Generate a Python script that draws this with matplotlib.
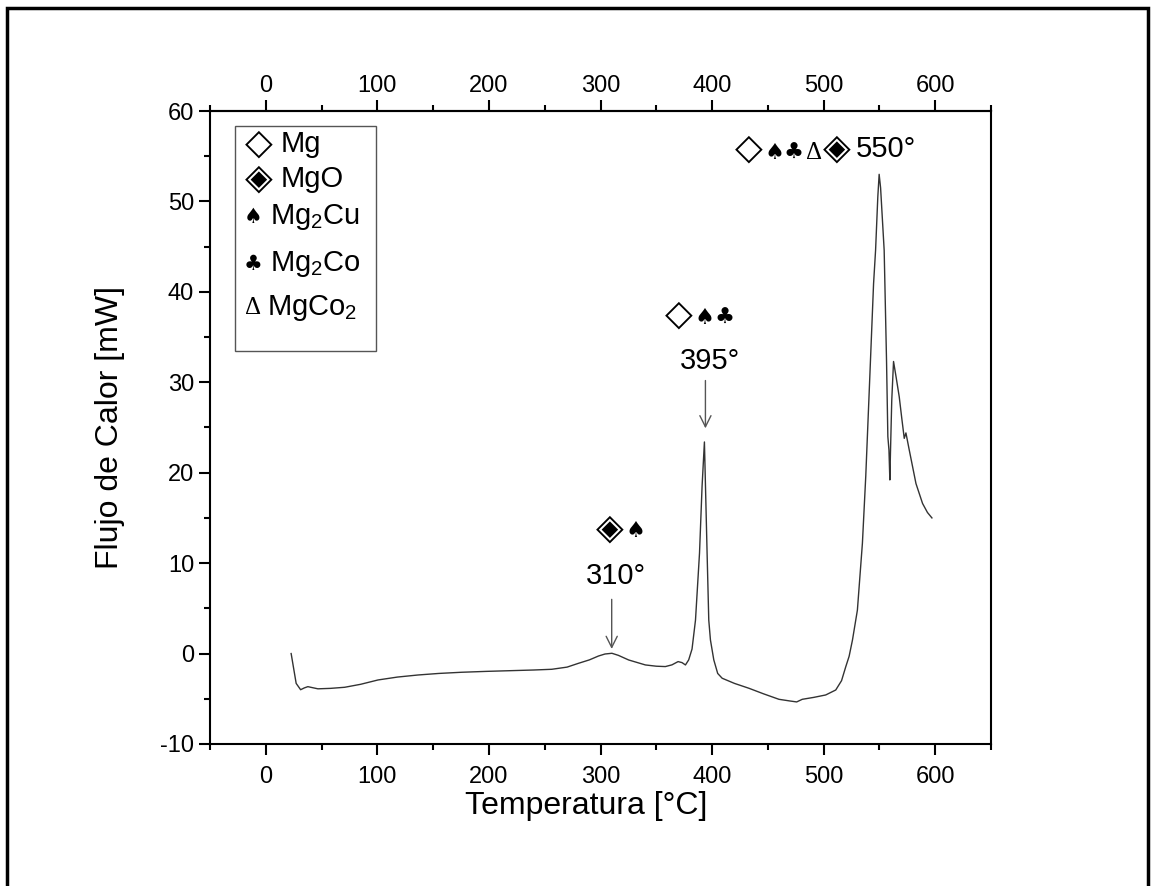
import matplotlib
matplotlib.use('Agg')
import matplotlib.pyplot as plt
from matplotlib.patches import Rectangle

plt.rcParams['font.family'] = ['Liberation Sans', 'DejaVu Sans']
plt.rcParams['mathtext.default'] = 'regular'
plt.rcParams['axes.unicode_minus'] = False

# DSC trace
temp = [22.7, 27.2, 31.2, 34.5, 37.7, 41.0, 46.7, 58.0, 70.7, 85.0, 100.6, 118.0, 136.5,
        155.0, 175.4, 198.0, 220.3, 240.0, 256.3, 270.0, 280.2, 290.0, 298.2, 304.0,
        310.2, 316.0, 325.2, 340.2, 350.0, 358.1, 364.0, 369.5, 373.0, 376.1, 379.0,
        382.0, 385.1, 388.7, 391.0, 393.1, 395.5, 397.0, 398.5, 401.5, 405.0, 409.0,
        420.0, 433.0, 446.0, 459.9, 470.0, 475.8, 480.8, 491.0, 501.8, 510.8, 516.0,
        519.8, 522.8, 525.8, 530.2, 534.7, 537.7, 541.1, 544.7, 546.5, 548.5, 549.7,
        551.0, 554.2, 556.3, 557.5, 558.5, 559.3, 559.8, 561.0, 562.6, 565.0, 567.7,
        570.0, 572.2, 573.7, 576.7, 582.7, 588.6, 593.0, 597.0]
flow = [0.0, -3.3, -4.0, -3.8, -3.66, -3.75, -3.9, -3.85, -3.73, -3.4, -2.92, -2.6, -2.37,
        -2.2, -2.07, -1.97, -1.89, -1.82, -1.74, -1.5, -1.08, -0.7, -0.27, -0.05,
        0.03, -0.2, -0.71, -1.26, -1.4, -1.44, -1.25, -0.89, -1.0, -1.26, -0.7,
        0.5, 3.7, 11.1, 18.5, 23.4, 11.1, 3.7, 1.5, -0.7, -2.2, -2.73,
        -3.3, -3.84, -4.45, -5.06, -5.25, -5.35, -5.06, -4.85, -4.58, -4.03, -3.0,
        -1.45, -0.3, 1.5, 4.8, 12.2, 19.6, 29.9, 40.9, 44.6, 50.5, 53.0,
        51.5, 44.6, 32.5, 24.0, 22.5, 19.2, 22.0, 28.0, 32.3, 30.5, 28.4,
        26.0, 23.8, 24.4, 22.5, 18.8, 16.6, 15.6, 15.0]

xticks = [0, 100, 200, 300, 400, 500, 600]
yticks = [-10, 0, 10, 20, 30, 40, 50, 60]

legend_symbols = ['\u25C7', '\u25C8', '\u2660', '\u2663', '\u0394']
legend_labels = ['Mg', 'MgO', 'Mg$_2$Cu', 'Mg$_2$Co', 'MgCo$_2$']

SYM = 'DejaVu Sans'
BIG = 26    # size of the diamond signs
SMALL = 16  # size of spade / club


def put(x, y, s, size, fam=SYM, **kw):
    ax.text(x, y, s, fontsize=size, family=fam, ha='center', va='center', **kw)


fig = plt.figure(figsize=(11.54, 8.86), dpi=100)
ax = fig.add_axes([0.182, 0.1603, 0.6768, 0.7144])

ax.plot(temp, flow, color='#333333', lw=1.0)

ax.set_xlim(-50, 650)
ax.set_ylim(-10, 60)
ax.set_xticks(xticks)
ax.set_yticks(yticks)
ax.set_xticks(range(-50, 651, 100), minor=True)
ax.set_yticks(range(-5, 60, 10), minor=True)
ax.tick_params(which='both', direction='out', width=1.5, labelsize=17, right=False)
ax.tick_params(axis='x', which='major', pad=8)
ax.tick_params(which='major', length=8)
ax.tick_params(which='minor', length=4.5)
for s in ax.spines.values():
    s.set_linewidth(1.5)

top = ax.secondary_xaxis('top')
top.set_xticks(xticks)
top.set_xticks(range(-50, 651, 100), minor=True)
top.tick_params(which='both', direction='out', width=1.5, labelsize=17, pad=2)
top.tick_params(which='major', length=8)
top.tick_params(which='minor', length=4.5)
top.spines['top'].set_linewidth(1.5)

ax.set_xlabel('Temperatura [°C]', fontsize=23)
ax.xaxis.set_label_coords(0.481, -0.074)
ax.set_ylabel('Flujo de Calor [mW]', fontsize=23, labelpad=25)

# legend box drawn by hand
ax.add_patch(Rectangle((0.032, 0.621), 0.18, 0.356, transform=ax.transAxes,
                       fill=False, ec='#555555', lw=1.0))
leg_y = [0.948, 0.893, 0.832, 0.759, 0.688]
for sym, lab, yy in zip(legend_symbols, legend_labels, leg_y):
    if sym in ('\u2660', '\u2663'):
        put(0.0555, yy, sym, SMALL - 1, transform=ax.transAxes)
        lx = 0.0765
    elif sym == '\u0394':
        put(0.0545, yy, sym, 18, fam='Liberation Serif', transform=ax.transAxes)
        lx = 0.0735
    else:
        put(0.062, yy, sym, BIG, transform=ax.transAxes)
        lx = 0.091
    ax.text(lx, yy, lab, transform=ax.transAxes, fontsize=21, ha='left', va='center')

# peak annotations
arrow = dict(arrowstyle='->', color='#555555', lw=1.0, mutation_scale=20)
ax.annotate('', xy=(310, 0.2), xytext=(310, 6.3), arrowprops=arrow)
ax.text(314, 8.6, '310°', fontsize=21, ha='center', va='center')
put(308, 13.8, '\u25C8', BIG)
put(331, 13.5, '\u2660', SMALL)

ax.annotate('', xy=(394, 24.6), xytext=(394, 30.5), arrowprops=arrow)
ax.text(398.5, 32.4, '395°', fontsize=21, ha='center', va='center')
put(370.5, 37.5, '\u25C7', BIG)
put(393, 37.1, '\u2660', SMALL)
put(411, 37.1, '\u2663', SMALL)

put(433, 55.8, '\u25C7', BIG)
put(456, 55.4, '\u2660', SMALL)
put(472.5, 55.4, '\u2663', SMALL)
put(491, 55.4, '\u0394', 18, fam='Liberation Serif')
put(512, 55.8, '\u25C8', BIG)
ax.text(529, 55.8, '550°', fontsize=21, ha='left', va='center')

# outer frame around the picture
fig.add_artist(Rectangle((7 / 1154, -0.05), 1141 / 1154, 1.05 - 8.5 / 886,
                         transform=fig.transFigure, fill=False, ec='black', lw=2.5))

fig.savefig('out.png', dpi=100)
